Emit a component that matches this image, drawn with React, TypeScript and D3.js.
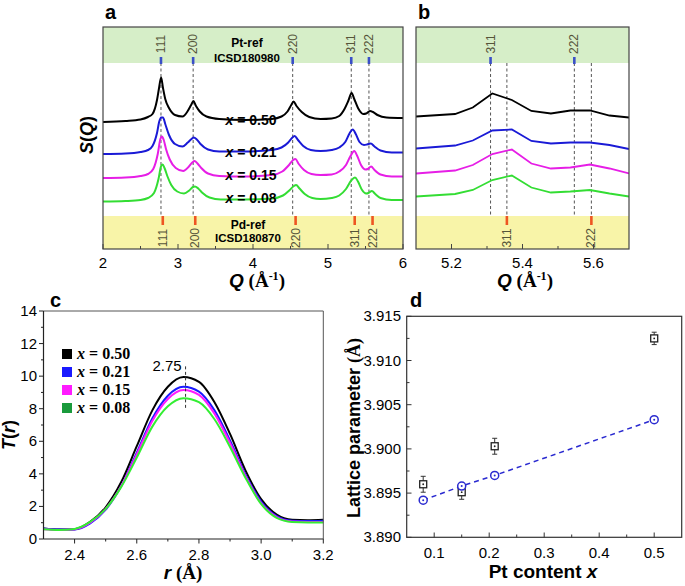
import React from "react";
import * as d3 from "d3";

const SANS = "'Liberation Sans', Arial, sans-serif";
const SERIF = "'Liberation Serif', 'Times New Roman', serif";

// ---------- panel a / b ----------
const Q_TICKS_A = [2, 3, 4, 5, 6];
const Q_MINOR_A = [2.5, 3.5, 4.5, 5.5];
const Q_TICKS_B = [5.2, 5.4, 5.6];
const Q_MINOR_B = [5.3, 5.5];
const HKL = ["111", "200", "220", "311", "222"];
const PT_REF_Q = [2.773, 3.202, 4.529, 5.31, 5.546];
const PD_REF_Q = [2.797, 3.23, 4.568, 5.356, 5.594];
const SERIES_LABELS = ["0.50", "0.21", "0.15", "0.08"];

const SQ_050: [number, number][] = [[2.0,2.54],[2.3,2.56],[2.5,2.59],[2.6,2.64],[2.66,2.7],[2.72,2.98],[2.745,3.2],[2.775,3.43],[2.8,3.22],[2.83,3.0],[2.88,2.82],[2.96,2.68],[3.06,2.65],[3.13,2.76],[3.175,2.88],[3.205,2.96],[3.24,2.86],[3.29,2.75],[3.38,2.65],[3.55,2.6],[3.9,2.58],[4.25,2.6],[4.38,2.65],[4.46,2.75],[4.51,2.88],[4.54,2.95],[4.58,2.86],[4.65,2.74],[4.75,2.64],[4.9,2.6],[5.05,2.61],[5.15,2.66],[5.22,2.8],[5.27,2.96],[5.315,3.12],[5.35,3.0],[5.4,2.82],[5.47,2.7],[5.51,2.71],[5.56,2.76],[5.6,2.74],[5.66,2.68],[5.78,2.63],[6.0,2.62]];
const SQ_021: [number, number][] = [[2.0,1.9],[2.3,1.91],[2.5,1.94],[2.6,1.98],[2.66,2.06],[2.72,2.32],[2.75,2.55],[2.775,2.63],[2.8,2.63],[2.83,2.5],[2.88,2.28],[2.96,2.1],[3.06,2.05],[3.13,2.13],[3.18,2.2],[3.21,2.23],[3.25,2.19],[3.3,2.1],[3.4,1.99],[3.55,1.95],[3.9,1.95],[4.25,1.98],[4.38,2.03],[4.47,2.13],[4.52,2.22],[4.555,2.26],[4.6,2.18],[4.67,2.06],[4.77,1.98],[4.9,1.96],[5.05,1.98],[5.15,2.03],[5.23,2.14],[5.29,2.32],[5.33,2.39],[5.37,2.3],[5.42,2.14],[5.48,2.08],[5.52,2.09],[5.57,2.11],[5.62,2.05],[5.7,1.97],[5.85,1.93],[6.0,1.93]];
const SQ_015: [number, number][] = [[2.0,1.42],[2.3,1.43],[2.5,1.46],[2.6,1.5],[2.67,1.6],[2.73,1.9],[2.765,2.2],[2.785,2.25],[2.81,2.18],[2.84,2.0],[2.89,1.79],[2.97,1.62],[3.07,1.56],[3.14,1.64],[3.19,1.73],[3.22,1.76],[3.26,1.71],[3.31,1.62],[3.4,1.51],[3.55,1.46],[3.9,1.45],[4.25,1.48],[4.39,1.55],[4.48,1.68],[4.535,1.78],[4.565,1.8],[4.61,1.7],[4.68,1.58],[4.78,1.5],[4.9,1.48],[5.05,1.49],[5.15,1.55],[5.24,1.68],[5.3,1.86],[5.35,1.96],[5.39,1.86],[5.44,1.68],[5.5,1.59],[5.53,1.6],[5.575,1.65],[5.62,1.58],[5.7,1.49],[5.85,1.45],[6.0,1.45]];
const SQ_008: [number, number][] = [[2.0,0.95],[2.3,0.96],[2.5,0.98],[2.6,1.02],[2.68,1.12],[2.74,1.4],[2.775,1.66],[2.795,1.69],[2.82,1.62],[2.86,1.45],[2.91,1.28],[2.99,1.15],[3.08,1.11],[3.15,1.17],[3.2,1.24],[3.225,1.25],[3.27,1.21],[3.32,1.13],[3.42,1.03],[3.57,0.99],[3.9,0.99],[4.25,1.01],[4.4,1.07],[4.49,1.18],[4.545,1.26],[4.575,1.28],[4.62,1.21],[4.69,1.1],[4.79,1.02],[4.9,1.0],[5.05,1.02],[5.15,1.07],[5.24,1.2],[5.31,1.37],[5.36,1.43],[5.4,1.35],[5.45,1.19],[5.51,1.11],[5.54,1.12],[5.585,1.16],[5.63,1.1],[5.7,1.02],[5.85,0.98],[6.0,0.98]];

const QB = [5.1, 5.21, 5.26, 5.315, 5.37, 5.425, 5.48, 5.535, 5.59, 5.645, 5.7];
const SB_050 = [2.65, 2.7, 2.83, 3.11, 2.98, 2.76, 2.71, 2.77, 2.77, 2.67, 2.63];
const SB_021 = [2.01, 2.07, 2.17, 2.37, 2.39, 2.16, 2.11, 2.13, 2.13, 2.08, 2.0];
const SB_015 = [1.51, 1.57, 1.68, 1.9, 1.99, 1.71, 1.61, 1.63, 1.69, 1.61, 1.51];
const SB_008 = [1.05, 1.1, 1.18, 1.38, 1.47, 1.23, 1.13, 1.15, 1.18, 1.11, 1.05];

// ---------- panel c ----------
const R_TICKS = [2.4, 2.6, 2.8, 3.0, 3.2];
const R_MINOR = [2.5, 2.7, 2.9, 3.1];
const T_TICKS = [0, 2, 4, 6, 8, 10, 12, 14];
const T_MINOR = [1, 3, 5, 7, 9, 11, 13];
const R_VALUES = [2.3, 2.35, 2.4, 2.45, 2.5, 2.55, 2.6, 2.65, 2.7, 2.75, 2.8, 2.85, 2.9, 2.95, 3.0, 3.05, 3.1, 3.15, 3.2];
const TR_050 = [0.65, 0.58, 0.6, 1.05, 1.95, 3.5, 5.7, 7.9, 9.35, 9.95, 9.65, 8.4, 6.45, 4.2, 2.45, 1.5, 1.18, 1.15, 1.18];
const TR_021 = [0.65, 0.58, 0.58, 0.95, 1.8, 3.25, 5.3, 7.4, 8.8, 9.35, 9.05, 7.9, 6.05, 3.95, 2.3, 1.4, 1.12, 1.1, 1.12];
const TR_015 = [0.6, 0.55, 0.6, 1.0, 1.85, 3.25, 5.2, 7.25, 8.6, 9.15, 8.85, 7.7, 5.9, 3.85, 2.2, 1.35, 1.08, 1.05, 1.05];
const TR_008 = [0.6, 0.55, 0.62, 1.05, 1.85, 3.2, 5.0, 6.9, 8.15, 8.65, 8.4, 7.35, 5.65, 3.75, 2.15, 1.3, 1.05, 1.02, 1.02];
const PEAK_R = 2.757;
const PEAK_LABEL = "2.75";

// ---------- panel d ----------
const X_TICKS = [0.1, 0.2, 0.3, 0.4, 0.5];
const X_MINOR = [0.15, 0.25, 0.35, 0.45];
const LP_TICKS = [3.89, 3.895, 3.9, 3.905, 3.91, 3.915];
const LP_MINOR = [3.8925, 3.8975, 3.9025, 3.9075, 3.9125];
const PT_CONTENT = [0.08, 0.15, 0.21, 0.5];
const LATTICE_EXP = [3.896, 3.8951, 3.9003, 3.9125];
const LATTICE_ERR = [0.0009, 0.0008, 0.0009, 0.0007];
const LATTICE_VEGARD = [3.8942, 3.8958, 3.897, 3.9033];

const COLORS_A = ["#000000", "#1a1ad6", "#e61ee6", "#33dd33"];
const COLORS_C = ["#000000", "#1a1aff", "#ff1aff", "#33ee33"];
const LEGEND_C = ["#000000", "#1a1aff", "#ff1aff", "#1a9a3c"];

export default function App() {
  // panel a scales
  const xa = d3.scaleLinear().domain([2, 6]).range([103, 403]);
  const xb = d3.scaleLinear().domain([5.1, 5.7]).range([416, 629]);
  const ys = d3.scaleLinear().domain([0, 4.44]).range([249, 27]);
  const top = 27, bot = 249, gBot = 63, yTop = 216;

  const lineA = d3.line<[number, number]>().x(d => xa(d[0])).y(d => ys(d[1])).curve(d3.curveMonotoneX);
  const lineB = d3.line<number>().x((_, i) => xb(QB[i])).y(d => ys(d));
  const seriesA = [SQ_050, SQ_021, SQ_015, SQ_008];
  const seriesB = [SB_050, SB_021, SB_015, SB_008];
  const labelV = [2.58, 1.94, 1.48, 1.02];

  // panel c
  const xc = d3.scaleLinear().domain([2.3, 3.2]).range([43.5, 323.3]);
  const yc = d3.scaleLinear().domain([0, 14]).range([539, 311]);
  const lineC = d3.line<number>().x((_, i) => xc(R_VALUES[i])).y(d => yc(d)).curve(d3.curveMonotoneX);
  const seriesC = [TR_050, TR_021, TR_015, TR_008];

  // panel d
  const xd = d3.scaleLinear().domain([0.05, 0.55]).range([406.7, 681.7]);
  const yd = d3.scaleLinear().domain([3.89, 3.915]).range([537.3, 316.3]);
  const lineD = d3.line<number>().x((_, i) => xd(PT_CONTENT[i])).y(d => yd(d));

  const bandLabel = (x: number, y: number, t: string, k: string) => (
    <text key={k} transform={`translate(${x},${y}) rotate(-90)`} textAnchor="middle" dominantBaseline="central"
      fontFamily={SANS} fontSize={12} fill="#55553a">{t}</text>
  );

  const renderRefPanel = (x: d3.ScaleLinear<number, number>, idx: number[], dashedQ: number[], id: string) => {
    const [x0, x1] = x.range();
    return (
      <g>
        <rect x={x0} y={top} width={x1 - x0} height={gBot - top} fill="#d6eec8" />
        <rect x={x0} y={yTop} width={x1 - x0} height={bot - yTop} fill="#f8f4a8" />
        {dashedQ.map((q, i) => (
          <line key={"d" + i} x1={x(q)} x2={x(q)} y1={gBot} y2={yTop} stroke="#555" strokeWidth={1} strokeDasharray="3,2.5" />
        ))}
        {idx.map(i => (
          <g key={"r" + i}>
            <line x1={x(PT_REF_Q[i])} x2={x(PT_REF_Q[i])} y1={57} y2={64} stroke="#3a4fc8" strokeWidth={2.6} />
            {bandLabel(x(PT_REF_Q[i]), 44, HKL[i], "pt" + i)}
            <line x1={x(PD_REF_Q[i])} x2={x(PD_REF_Q[i])} y1={216} y2={225} stroke="#ee5522" strokeWidth={2.6} />
            {bandLabel(x(PD_REF_Q[i]), 238, HKL[i], "pd" + i)}
          </g>
        ))}
        <clipPath id={id}><rect x={x0} y={top} width={x1 - x0} height={bot - top} /></clipPath>
      </g>
    );
  };

  return (
    <svg width={685} height={586} style={{ position: "absolute", left: 0, top: 0, background: "#fff" }}>
      <rect width={685} height={586} fill="#fff" />
      {/* ---------- panel a ---------- */}
      {renderRefPanel(xa, [0, 1, 2, 3, 4], PT_REF_Q, "clipA")}
      <text x={247} y={47} textAnchor="middle" fontFamily={SANS} fontWeight="bold" fontSize={12}>Pt-ref</text>
      <text x={247} y={62} textAnchor="middle" fontFamily={SANS} fontWeight="bold" fontSize={11.5}>ICSD180980</text>
      <text x={248} y={229} textAnchor="middle" fontFamily={SANS} fontWeight="bold" fontSize={12}>Pd-ref</text>
      <text x={248} y={242} textAnchor="middle" fontFamily={SANS} fontWeight="bold" fontSize={11.5}>ICSD180870</text>
      <g clipPath="url(#clipA)">
        {seriesA.map((s, i) => (
          <path key={i} d={lineA(s) || ""} fill="none" stroke={COLORS_A[i]} strokeWidth={2} />
        ))}
      </g>
      {SERIES_LABELS.map((l, i) => (
        <text key={l} x={251} y={ys(labelV[i]) + 5} textAnchor="middle" fontFamily={SANS} fontWeight="bold" fontSize={14}>
          <tspan fontStyle="italic">x</tspan> = {l}
        </text>
      ))}
      <rect x={103} y={top} width={300} height={bot - top} fill="none" stroke="#444" strokeWidth={1.2} />
      {Q_TICKS_A.map(t => (
        <g key={t}>
          <line x1={xa(t)} x2={xa(t)} y1={bot} y2={bot - 5} stroke="#444" />
          <text x={xa(t)} y={268} textAnchor="middle" fontFamily={SANS} fontSize={15}>{t}</text>
        </g>
      ))}
      {Q_MINOR_A.map(t => <line key={t} x1={xa(t)} x2={xa(t)} y1={bot} y2={bot - 3} stroke="#444" />)}
      <text x={257} y={287} textAnchor="middle" fontSize={19} fontWeight="bold">
        <tspan fontFamily={SANS} fontStyle="italic">Q</tspan>
        <tspan fontFamily={SERIF}> (Å</tspan>
        <tspan fontFamily={SERIF} fontSize={12} dy={-7}>-1</tspan>
        <tspan fontFamily={SERIF} dy={7}>)</tspan>
      </text>
      <text transform="translate(93,135) rotate(-90)" textAnchor="middle" fontFamily={SANS} fontWeight="bold" fontSize={18}>
        <tspan fontStyle="italic">S</tspan>(<tspan fontStyle="italic">Q</tspan>)
      </text>
      <text x={105} y={19} fontFamily={SANS} fontWeight="bold" fontSize={20}>a</text>

      {/* ---------- panel b ---------- */}
      {renderRefPanel(xb, [3, 4], [PT_REF_Q[3], PD_REF_Q[3], PT_REF_Q[4], PD_REF_Q[4]], "clipB")}
      <g clipPath="url(#clipB)">
        {seriesB.map((s, i) => (
          <path key={i} d={lineB(s) || ""} fill="none" stroke={COLORS_A[i]} strokeWidth={1.8} />
        ))}
      </g>
      <rect x={416} y={top} width={213} height={bot - top} fill="none" stroke="#444" strokeWidth={1.2} />
      {Q_TICKS_B.map(t => (
        <g key={t}>
          <line x1={xb(t)} x2={xb(t)} y1={bot} y2={bot - 5} stroke="#444" />
          <text x={xb(t)} y={268} textAnchor="middle" fontFamily={SANS} fontSize={15}>{t.toFixed(1)}</text>
        </g>
      ))}
      {Q_MINOR_B.map(t => <line key={t} x1={xb(t)} x2={xb(t)} y1={bot} y2={bot - 3} stroke="#444" />)}
      <text x={525} y={287} textAnchor="middle" fontSize={19} fontWeight="bold">
        <tspan fontFamily={SANS} fontStyle="italic">Q</tspan>
        <tspan fontFamily={SERIF}> (Å</tspan>
        <tspan fontFamily={SERIF} fontSize={12} dy={-7}>-1</tspan>
        <tspan fontFamily={SERIF} dy={7}>)</tspan>
      </text>
      <text x={418} y={19} fontFamily={SANS} fontWeight="bold" fontSize={20}>b</text>

      {/* ---------- panel c ---------- */}
      <text x={50} y={307} fontFamily={SANS} fontWeight="bold" fontSize={20}>c</text>
      {seriesC.map((s, i) => (
        <path key={i} d={lineC(s) || ""} fill="none" stroke={COLORS_C[i]} strokeWidth={2} />
      ))}
      <line x1={xc(PEAK_R)} x2={xc(PEAK_R)} y1={yc(10.6)} y2={yc(8)} stroke="#333" strokeWidth={1} strokeDasharray="3,2.5" />
      <text x={167} y={371} textAnchor="middle" fontFamily={SANS} fontSize={15}>{PEAK_LABEL}</text>
      <line x1={43.5} x2={323.3} y1={311} y2={311} stroke="#555" strokeWidth={1} />
      <line x1={323.3} x2={323.3} y1={311} y2={539} stroke="#555" strokeWidth={1} />
      <line x1={43.5} x2={43.5} y1={311} y2={539} stroke="#222" strokeWidth={1.2} />
      <line x1={43.5} x2={323.3} y1={539} y2={539} stroke="#222" strokeWidth={1.2} />
      {T_TICKS.map(t => (
        <g key={t}>
          <line x1={39} x2={43.5} y1={yc(t)} y2={yc(t)} stroke="#222" />
          <text x={37} y={yc(t) + 5} textAnchor="end" fontFamily={SANS} fontSize={15}>{t}</text>
        </g>
      ))}
      {T_MINOR.map(t => <line key={t} x1={41} x2={43.5} y1={yc(t)} y2={yc(t)} stroke="#222" />)}
      {R_TICKS.map(t => (
        <g key={t}>
          <line x1={xc(t)} x2={xc(t)} y1={539} y2={543.5} stroke="#222" />
          <text x={xc(t)} y={560} textAnchor="middle" fontFamily={SANS} fontSize={15}>{t.toFixed(1)}</text>
        </g>
      ))}
      {R_MINOR.map(t => <line key={t} x1={xc(t)} x2={xc(t)} y1={539} y2={541.5} stroke="#222" />)}
      {SERIES_LABELS.map((l, i) => (
        <g key={l}>
          <rect x={62} y={349 + i * 18} width={10} height={10} fill={LEGEND_C[i]} />
          <text x={77} y={359 + i * 18} fontFamily={SERIF} fontWeight="bold" fontSize={16}>
            <tspan fontStyle="italic">x</tspan> = {l}
          </text>
        </g>
      ))}
      <text x={183} y={579} textAnchor="middle" fontSize={19} fontWeight="bold">
        <tspan fontFamily={SANS} fontStyle="italic">r</tspan>
        <tspan fontFamily={SERIF}> (Å)</tspan>
      </text>
      <text transform="translate(15,435) rotate(-90)" textAnchor="middle" fontFamily={SANS} fontWeight="bold" fontSize={18}>
        <tspan fontStyle="italic">T</tspan>(<tspan fontStyle="italic">r</tspan>)
      </text>

      {/* ---------- panel d ---------- */}
      <text x={410} y={307} fontFamily={SANS} fontWeight="bold" fontSize={20}>d</text>
      <path d={lineD(LATTICE_VEGARD) || ""} fill="none" stroke="#2a2ad0" strokeWidth={1.5} strokeDasharray="5,4" />
      {PT_CONTENT.map((x, i) => {
        const cx = xd(x);
        const yTopE = yd(LATTICE_EXP[i] + LATTICE_ERR[i]);
        const yBotE = yd(LATTICE_EXP[i] - LATTICE_ERR[i]);
        return (
          <g key={"e" + i}>
            <line x1={cx} x2={cx} y1={yTopE} y2={yBotE} stroke="#333" strokeWidth={1} />
            <line x1={cx - 2.5} x2={cx + 2.5} y1={yTopE} y2={yTopE} stroke="#333" strokeWidth={1} />
            <line x1={cx - 2.5} x2={cx + 2.5} y1={yBotE} y2={yBotE} stroke="#333" strokeWidth={1} />
            <rect x={cx - 3.5} y={yd(LATTICE_EXP[i]) - 3.5} width={7} height={7} fill="#fff" stroke="#222" strokeWidth={1.3} />
            <circle cx={cx} cy={yd(LATTICE_EXP[i])} r={0.9} fill="#222" />
          </g>
        );
      })}
      {PT_CONTENT.map((x, i) => (
        <g key={"v" + i}>
          <circle cx={xd(x)} cy={yd(LATTICE_VEGARD[i])} r={4} fill="#fff" stroke="#2a2ad0" strokeWidth={1.5} />
          <circle cx={xd(x)} cy={yd(LATTICE_VEGARD[i])} r={1} fill="#2a2ad0" />
        </g>
      ))}
      <rect x={406.7} y={316.3} width={275} height={221} fill="none" stroke="#333" strokeWidth={1.2} />
      {LP_TICKS.map(t => (
        <g key={t}>
          <line x1={406.7} x2={411.5} y1={yd(t)} y2={yd(t)} stroke="#333" />
          <text x={401} y={yd(t) + 5} textAnchor="end" fontFamily={SANS} fontSize={15}>{t.toFixed(3)}</text>
        </g>
      ))}
      {LP_MINOR.map(t => <line key={t} x1={406.7} x2={409.5} y1={yd(t)} y2={yd(t)} stroke="#333" />)}
      {X_TICKS.map(t => (
        <g key={t}>
          <line x1={xd(t)} x2={xd(t)} y1={537.3} y2={532.5} stroke="#333" />
          <text x={xd(t)} y={558} textAnchor="middle" fontFamily={SANS} fontSize={15}>{t.toFixed(1)}</text>
        </g>
      ))}
      {X_MINOR.map(t => <line key={t} x1={xd(t)} x2={xd(t)} y1={537.3} y2={534.5} stroke="#333" />)}
      <text x={543} y={578} textAnchor="middle" fontFamily={SANS} fontWeight="bold" fontSize={19}>
        Pt content <tspan fontStyle="italic">x</tspan>
      </text>
      <text transform="translate(360,428) rotate(-90)" textAnchor="middle" fontWeight="bold" fontSize={18}>
        <tspan fontFamily={SANS}>Lattice parameter </tspan>
        <tspan fontFamily={SERIF}>(Å)</tspan>
      </text>
    </svg>
  );
}
